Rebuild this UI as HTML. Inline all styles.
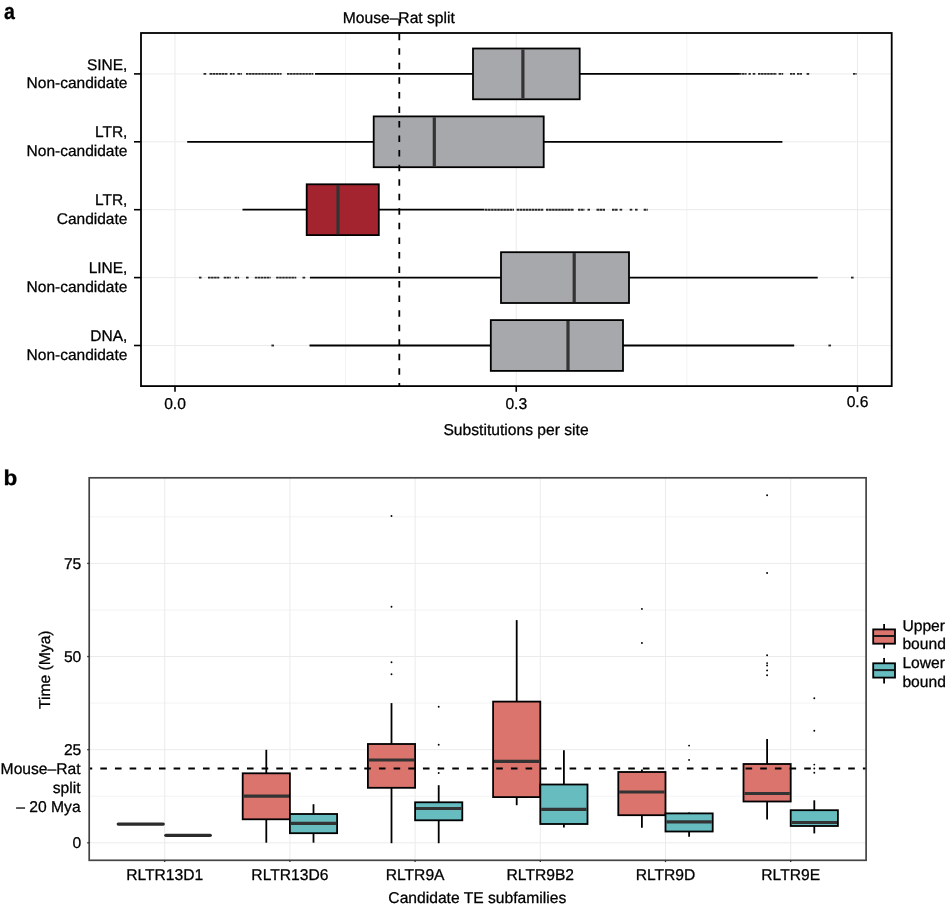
<!DOCTYPE html>
<html><head><meta charset="utf-8"><style>
html,body{margin:0;padding:0;background:#fff;}
svg{display:block;will-change:transform;}
text{font-family:"Liberation Sans", sans-serif;fill:#000;stroke:#000;stroke-width:0.28px;stroke-linejoin:round;text-rendering:geometricPrecision;}
</style></head><body>
<svg width="946" height="906" viewBox="0 0 946 906">
<rect width="946" height="906" fill="#fff"/>
<line x1="175" y1="33" x2="175" y2="386.1" stroke="#ebebeb" stroke-width="1" />
<line x1="345.62" y1="33" x2="345.62" y2="386.1" stroke="#f3f3f3" stroke-width="1" />
<line x1="516.25" y1="33" x2="516.25" y2="386.1" stroke="#ebebeb" stroke-width="1" />
<line x1="686.88" y1="33" x2="686.88" y2="386.1" stroke="#f3f3f3" stroke-width="1" />
<line x1="857.5" y1="33" x2="857.5" y2="386.1" stroke="#ebebeb" stroke-width="1" />
<line x1="141" y1="73.9" x2="891.7" y2="73.9" stroke="#ebebeb" stroke-width="1" />
<line x1="141" y1="141.8" x2="891.7" y2="141.8" stroke="#ebebeb" stroke-width="1" />
<line x1="141" y1="209.7" x2="891.7" y2="209.7" stroke="#ebebeb" stroke-width="1" />
<line x1="141" y1="277.6" x2="891.7" y2="277.6" stroke="#ebebeb" stroke-width="1" />
<line x1="141" y1="345.5" x2="891.7" y2="345.5" stroke="#ebebeb" stroke-width="1" />
<line x1="203.5" y1="73.9" x2="206.7" y2="73.9" stroke="#262626" stroke-width="1.85" stroke-dasharray="2.6 0.45"/>
<line x1="209.5" y1="73.9" x2="227.9" y2="73.9" stroke="#262626" stroke-width="1.85" stroke-dasharray="2.6 0.45"/>
<line x1="229.8" y1="73.9" x2="234.6" y2="73.9" stroke="#262626" stroke-width="1.85" stroke-dasharray="2.6 0.45"/>
<line x1="237.4" y1="73.9" x2="241.9" y2="73.9" stroke="#262626" stroke-width="1.85" stroke-dasharray="2.6 0.45"/>
<line x1="246" y1="73.9" x2="281.6" y2="73.9" stroke="#262626" stroke-width="1.85" stroke-dasharray="2.6 0.45"/>
<line x1="287" y1="73.9" x2="313.4" y2="73.9" stroke="#262626" stroke-width="1.85" stroke-dasharray="2.6 0.45"/>
<line x1="739" y1="73.9" x2="746.6" y2="73.9" stroke="#262626" stroke-width="1.85" stroke-dasharray="2.6 0.45"/>
<line x1="748.5" y1="73.9" x2="750.8" y2="73.9" stroke="#262626" stroke-width="1.85" stroke-dasharray="2.6 0.45"/>
<line x1="752.7" y1="73.9" x2="755.8" y2="73.9" stroke="#262626" stroke-width="1.85" stroke-dasharray="2.6 0.45"/>
<line x1="758" y1="73.9" x2="776.7" y2="73.9" stroke="#262626" stroke-width="1.85" stroke-dasharray="2.6 0.45"/>
<line x1="778.6" y1="73.9" x2="783.2" y2="73.9" stroke="#262626" stroke-width="1.85" stroke-dasharray="2.6 0.45"/>
<line x1="790" y1="73.9" x2="795" y2="73.9" stroke="#262626" stroke-width="1.85" stroke-dasharray="2.6 0.45"/>
<line x1="797" y1="73.9" x2="802" y2="73.9" stroke="#262626" stroke-width="1.85" stroke-dasharray="2.6 0.45"/>
<line x1="806.6" y1="73.9" x2="809.4" y2="73.9" stroke="#262626" stroke-width="1.85" stroke-dasharray="2.6 0.45"/>
<line x1="853" y1="73.9" x2="856.6" y2="73.9" stroke="#262626" stroke-width="1.85" stroke-dasharray="2.6 0.45"/>
<line x1="315" y1="73.9" x2="473" y2="73.9" stroke="#000" stroke-width="1.8" />
<line x1="579.7" y1="73.9" x2="739" y2="73.9" stroke="#000" stroke-width="1.8" />
<rect x="473" y="48.5" width="106.7" height="50.8" fill="#a7a8ab" stroke="#000" stroke-width="1.8"/>
<line x1="522.9" y1="49.4" x2="522.9" y2="98.4" stroke="#333" stroke-width="3.2" />
<line x1="187.2" y1="141.8" x2="373.7" y2="141.8" stroke="#000" stroke-width="1.8" />
<line x1="543.7" y1="141.8" x2="782.4" y2="141.8" stroke="#000" stroke-width="1.8" />
<rect x="373.7" y="116.4" width="170" height="50.8" fill="#a7a8ab" stroke="#000" stroke-width="1.8"/>
<line x1="434.3" y1="117.3" x2="434.3" y2="166.3" stroke="#333" stroke-width="3.2" />
<line x1="485" y1="209.7" x2="514" y2="209.7" stroke="#262626" stroke-width="1.85" stroke-dasharray="2.6 0.45"/>
<line x1="516.6" y1="209.7" x2="543.3" y2="209.7" stroke="#262626" stroke-width="1.85" stroke-dasharray="2.6 0.45"/>
<line x1="546" y1="209.7" x2="574" y2="209.7" stroke="#262626" stroke-width="1.85" stroke-dasharray="2.6 0.45"/>
<line x1="578" y1="209.7" x2="584.5" y2="209.7" stroke="#262626" stroke-width="1.85" stroke-dasharray="2.6 0.45"/>
<line x1="587.5" y1="209.7" x2="590" y2="209.7" stroke="#262626" stroke-width="1.85" stroke-dasharray="2.6 0.45"/>
<line x1="596.5" y1="209.7" x2="605" y2="209.7" stroke="#262626" stroke-width="1.85" stroke-dasharray="2.6 0.45"/>
<line x1="612" y1="209.7" x2="617.6" y2="209.7" stroke="#262626" stroke-width="1.85" stroke-dasharray="2.6 0.45"/>
<line x1="619.6" y1="209.7" x2="622.2" y2="209.7" stroke="#262626" stroke-width="1.85" stroke-dasharray="2.6 0.45"/>
<line x1="629.7" y1="209.7" x2="632.3" y2="209.7" stroke="#262626" stroke-width="1.85" stroke-dasharray="2.6 0.45"/>
<line x1="635" y1="209.7" x2="637.7" y2="209.7" stroke="#262626" stroke-width="1.85" stroke-dasharray="2.6 0.45"/>
<line x1="643.7" y1="209.7" x2="647.7" y2="209.7" stroke="#262626" stroke-width="1.85" stroke-dasharray="2.6 0.45"/>
<line x1="242.5" y1="209.7" x2="306.7" y2="209.7" stroke="#000" stroke-width="1.8" />
<line x1="378.8" y1="209.7" x2="484.5" y2="209.7" stroke="#000" stroke-width="1.8" />
<rect x="306.7" y="184.3" width="72.1" height="50.8" fill="#a3242f" stroke="#000" stroke-width="1.8"/>
<line x1="338" y1="185.2" x2="338" y2="234.2" stroke="#333" stroke-width="3.2" />
<line x1="198.9" y1="277.6" x2="201.5" y2="277.6" stroke="#262626" stroke-width="1.85" stroke-dasharray="2.6 0.45"/>
<line x1="208" y1="277.6" x2="219.3" y2="277.6" stroke="#262626" stroke-width="1.85" stroke-dasharray="2.6 0.45"/>
<line x1="223.7" y1="277.6" x2="230.7" y2="277.6" stroke="#262626" stroke-width="1.85" stroke-dasharray="2.6 0.45"/>
<line x1="234.7" y1="277.6" x2="239.1" y2="277.6" stroke="#262626" stroke-width="1.85" stroke-dasharray="2.6 0.45"/>
<line x1="246" y1="277.6" x2="248.9" y2="277.6" stroke="#262626" stroke-width="1.85" stroke-dasharray="2.6 0.45"/>
<line x1="254.8" y1="277.6" x2="270.7" y2="277.6" stroke="#262626" stroke-width="1.85" stroke-dasharray="2.6 0.45"/>
<line x1="276.1" y1="277.6" x2="296.3" y2="277.6" stroke="#262626" stroke-width="1.85" stroke-dasharray="2.6 0.45"/>
<line x1="302.5" y1="277.6" x2="305.7" y2="277.6" stroke="#262626" stroke-width="1.85" stroke-dasharray="2.6 0.45"/>
<line x1="851" y1="277.6" x2="854" y2="277.6" stroke="#262626" stroke-width="1.85" stroke-dasharray="2.6 0.45"/>
<line x1="309.9" y1="277.6" x2="501" y2="277.6" stroke="#000" stroke-width="1.8" />
<line x1="629" y1="277.6" x2="817.7" y2="277.6" stroke="#000" stroke-width="1.8" />
<rect x="501" y="252.2" width="128" height="50.8" fill="#a7a8ab" stroke="#000" stroke-width="1.8"/>
<line x1="574.2" y1="253.1" x2="574.2" y2="302.1" stroke="#333" stroke-width="3.2" />
<line x1="271.4" y1="345.5" x2="274" y2="345.5" stroke="#262626" stroke-width="1.85" stroke-dasharray="2.6 0.45"/>
<line x1="828.4" y1="345.5" x2="831.1" y2="345.5" stroke="#262626" stroke-width="1.85" stroke-dasharray="2.6 0.45"/>
<line x1="309.5" y1="345.5" x2="490.8" y2="345.5" stroke="#000" stroke-width="1.8" />
<line x1="623" y1="345.5" x2="794.2" y2="345.5" stroke="#000" stroke-width="1.8" />
<rect x="490.8" y="320.1" width="132.2" height="50.8" fill="#a7a8ab" stroke="#000" stroke-width="1.8"/>
<line x1="568" y1="321" x2="568" y2="370" stroke="#333" stroke-width="3.2" />
<line x1="399.3" y1="19.15" x2="399.3" y2="386" stroke="#000" stroke-width="1.8" stroke-dasharray="6.5 8.05"/>
<rect x="141.0" y="33.0" width="750.7" height="353.1" fill="none" stroke="#000" stroke-width="1.8"/>
<line x1="134" y1="73.9" x2="141" y2="73.9" stroke="#000" stroke-width="1.6" />
<line x1="134" y1="141.8" x2="141" y2="141.8" stroke="#000" stroke-width="1.6" />
<line x1="134" y1="209.7" x2="141" y2="209.7" stroke="#000" stroke-width="1.6" />
<line x1="134" y1="277.6" x2="141" y2="277.6" stroke="#000" stroke-width="1.6" />
<line x1="134" y1="345.5" x2="141" y2="345.5" stroke="#000" stroke-width="1.6" />
<line x1="175" y1="386.1" x2="175" y2="391.8" stroke="#000" stroke-width="1.6" />
<line x1="516.25" y1="386.1" x2="516.25" y2="391.8" stroke="#000" stroke-width="1.6" />
<line x1="857.5" y1="386.1" x2="857.5" y2="391.8" stroke="#000" stroke-width="1.6" />
<text transform="translate(127.4 69.5) scale(1 1)" text-anchor="end" font-size="15.5" font-weight="normal" >SINE,</text>
<text transform="translate(127.4 88) scale(1 1)" text-anchor="end" font-size="15.5" font-weight="normal" >Non-candidate</text>
<text transform="translate(127.4 137.4) scale(1 1)" text-anchor="end" font-size="15.5" font-weight="normal" >LTR,</text>
<text transform="translate(127.4 155.9) scale(1 1)" text-anchor="end" font-size="15.5" font-weight="normal" >Non-candidate</text>
<text transform="translate(127.4 205.3) scale(1 1)" text-anchor="end" font-size="15.5" font-weight="normal" >LTR,</text>
<text transform="translate(127.4 223.8) scale(1 1)" text-anchor="end" font-size="15.5" font-weight="normal" >Candidate</text>
<text transform="translate(127.4 273.2) scale(1 1)" text-anchor="end" font-size="15.5" font-weight="normal" >LINE,</text>
<text transform="translate(127.4 291.7) scale(1 1)" text-anchor="end" font-size="15.5" font-weight="normal" >Non-candidate</text>
<text transform="translate(127.4 341.1) scale(1 1)" text-anchor="end" font-size="15.5" font-weight="normal" >DNA,</text>
<text transform="translate(127.4 359.6) scale(1 1)" text-anchor="end" font-size="15.5" font-weight="normal" >Non-candidate</text>
<text transform="translate(175 409.3) scale(1 1)" text-anchor="middle" font-size="15.65" font-weight="normal" >0.0</text>
<text transform="translate(516.25 409.3) scale(1 1)" text-anchor="middle" font-size="15.65" font-weight="normal" >0.3</text>
<text transform="translate(857.5 407.2) scale(1 1)" text-anchor="middle" font-size="15.65" font-weight="normal" >0.6</text>
<text transform="translate(516 434.6) scale(1 1)" text-anchor="middle" font-size="15.65" font-weight="normal" >Substitutions per site</text>
<text transform="translate(398.8 23.1) scale(1 1)" text-anchor="middle" font-size="15.65" font-weight="normal" >Mouse–Rat split</text>
<text transform="translate(3.9 19.2) scale(0.87 1)" text-anchor="start" font-size="22.5" font-weight="bold" >a</text>
<line x1="89.2" y1="842.8" x2="866.1" y2="842.8" stroke="#ebebeb" stroke-width="1" />
<line x1="89.2" y1="796.23" x2="866.1" y2="796.23" stroke="#f3f3f3" stroke-width="1" />
<line x1="89.2" y1="749.67" x2="866.1" y2="749.67" stroke="#ebebeb" stroke-width="1" />
<line x1="89.2" y1="703.1" x2="866.1" y2="703.1" stroke="#f3f3f3" stroke-width="1" />
<line x1="89.2" y1="656.53" x2="866.1" y2="656.53" stroke="#ebebeb" stroke-width="1" />
<line x1="89.2" y1="609.97" x2="866.1" y2="609.97" stroke="#f3f3f3" stroke-width="1" />
<line x1="89.2" y1="563.4" x2="866.1" y2="563.4" stroke="#ebebeb" stroke-width="1" />
<line x1="89.2" y1="516.84" x2="866.1" y2="516.84" stroke="#f3f3f3" stroke-width="1" />
<line x1="164.7" y1="477.8" x2="164.7" y2="860.3" stroke="#ebebeb" stroke-width="1" />
<line x1="289.9" y1="477.8" x2="289.9" y2="860.3" stroke="#ebebeb" stroke-width="1" />
<line x1="415.1" y1="477.8" x2="415.1" y2="860.3" stroke="#ebebeb" stroke-width="1" />
<line x1="540.3" y1="477.8" x2="540.3" y2="860.3" stroke="#ebebeb" stroke-width="1" />
<line x1="665.5" y1="477.8" x2="665.5" y2="860.3" stroke="#ebebeb" stroke-width="1" />
<line x1="790.7" y1="477.8" x2="790.7" y2="860.3" stroke="#ebebeb" stroke-width="1" />
<line x1="118.2" y1="824.1" x2="163.3" y2="824.1" stroke="#2b2b2b" stroke-width="3.2" stroke-linecap="round"/>
<line x1="165.8" y1="835.3" x2="210.3" y2="835.3" stroke="#2b2b2b" stroke-width="3.2" stroke-linecap="round"/>
<line x1="266.3" y1="749.8" x2="266.3" y2="773.3" stroke="#000" stroke-width="1.8" />
<line x1="266.3" y1="819.3" x2="266.3" y2="842.7" stroke="#000" stroke-width="1.8" />
<rect x="242.7" y="773.3" width="47.2" height="46" fill="#da746d" stroke="#000" stroke-width="1.8"/>
<line x1="243.6" y1="796.2" x2="289" y2="796.2" stroke="#333" stroke-width="3.2" />
<line x1="313.5" y1="804.2" x2="313.5" y2="814" stroke="#000" stroke-width="1.8" />
<line x1="313.5" y1="833.2" x2="313.5" y2="842.7" stroke="#000" stroke-width="1.8" />
<rect x="289.9" y="814" width="47.2" height="19.2" fill="#67bcc0" stroke="#000" stroke-width="1.8"/>
<line x1="290.8" y1="823.4" x2="336.2" y2="823.4" stroke="#333" stroke-width="3.2" />
<circle cx="391.5" cy="516" r="0.95" fill="#000"/>
<circle cx="391.5" cy="606.8" r="0.95" fill="#000"/>
<circle cx="391.5" cy="662.2" r="0.95" fill="#000"/>
<circle cx="391.5" cy="674.3" r="0.95" fill="#000"/>
<line x1="391.5" y1="703.1" x2="391.5" y2="744" stroke="#000" stroke-width="1.8" />
<line x1="391.5" y1="787.8" x2="391.5" y2="843.2" stroke="#000" stroke-width="1.8" />
<rect x="367.9" y="744" width="47.2" height="43.8" fill="#da746d" stroke="#000" stroke-width="1.8"/>
<line x1="368.8" y1="760" x2="414.2" y2="760" stroke="#333" stroke-width="3.2" />
<circle cx="438.7" cy="706.7" r="0.95" fill="#000"/>
<circle cx="438.7" cy="744.7" r="0.95" fill="#000"/>
<circle cx="438.7" cy="768.2" r="0.95" fill="#000"/>
<circle cx="438.7" cy="773" r="0.95" fill="#000"/>
<line x1="438.7" y1="785.2" x2="438.7" y2="802.3" stroke="#000" stroke-width="1.8" />
<line x1="438.7" y1="820.3" x2="438.7" y2="843.2" stroke="#000" stroke-width="1.8" />
<rect x="415.1" y="802.3" width="47.2" height="18" fill="#67bcc0" stroke="#000" stroke-width="1.8"/>
<line x1="416" y1="808.5" x2="461.4" y2="808.5" stroke="#333" stroke-width="3.2" />
<line x1="516.7" y1="620.1" x2="516.7" y2="701.6" stroke="#000" stroke-width="1.8" />
<line x1="516.7" y1="797.1" x2="516.7" y2="805.2" stroke="#000" stroke-width="1.8" />
<rect x="493.1" y="701.6" width="47.2" height="95.5" fill="#da746d" stroke="#000" stroke-width="1.8"/>
<line x1="494" y1="761.3" x2="539.4" y2="761.3" stroke="#333" stroke-width="3.2" />
<line x1="563.9" y1="750.3" x2="563.9" y2="784.5" stroke="#000" stroke-width="1.8" />
<line x1="563.9" y1="824" x2="563.9" y2="827.4" stroke="#000" stroke-width="1.8" />
<rect x="540.3" y="784.5" width="47.2" height="39.5" fill="#67bcc0" stroke="#000" stroke-width="1.8"/>
<line x1="541.2" y1="809.3" x2="586.6" y2="809.3" stroke="#333" stroke-width="3.2" />
<circle cx="641.9" cy="608.9" r="0.95" fill="#000"/>
<circle cx="641.9" cy="643" r="0.95" fill="#000"/>
<line x1="641.9" y1="769.4" x2="641.9" y2="772" stroke="#000" stroke-width="1.8" />
<line x1="641.9" y1="815.2" x2="641.9" y2="827.7" stroke="#000" stroke-width="1.8" />
<rect x="618.3" y="772" width="47.2" height="43.2" fill="#da746d" stroke="#000" stroke-width="1.8"/>
<line x1="619.2" y1="792" x2="664.6" y2="792" stroke="#333" stroke-width="3.2" />
<circle cx="689.1" cy="745.6" r="0.95" fill="#000"/>
<circle cx="689.1" cy="759.9" r="0.95" fill="#000"/>
<line x1="689.1" y1="812.6" x2="689.1" y2="813.4" stroke="#000" stroke-width="1.8" />
<line x1="689.1" y1="831.5" x2="689.1" y2="836.7" stroke="#000" stroke-width="1.8" />
<rect x="665.5" y="813.4" width="47.2" height="18.1" fill="#67bcc0" stroke="#000" stroke-width="1.8"/>
<line x1="666.4" y1="821.8" x2="711.8" y2="821.8" stroke="#333" stroke-width="3.2" />
<circle cx="767.1" cy="495.2" r="0.95" fill="#000"/>
<circle cx="767.1" cy="573" r="0.95" fill="#000"/>
<circle cx="767.1" cy="655.2" r="0.95" fill="#000"/>
<circle cx="767.1" cy="663.1" r="0.95" fill="#000"/>
<circle cx="767.1" cy="665.5" r="0.95" fill="#000"/>
<circle cx="767.1" cy="670.4" r="0.95" fill="#000"/>
<circle cx="767.1" cy="675.3" r="0.95" fill="#000"/>
<line x1="767.1" y1="738.9" x2="767.1" y2="764" stroke="#000" stroke-width="1.8" />
<line x1="767.1" y1="801.5" x2="767.1" y2="819.5" stroke="#000" stroke-width="1.8" />
<rect x="743.5" y="764" width="47.2" height="37.5" fill="#da746d" stroke="#000" stroke-width="1.8"/>
<line x1="744.4" y1="793.5" x2="789.8" y2="793.5" stroke="#333" stroke-width="3.2" />
<circle cx="814.3" cy="698.2" r="0.95" fill="#000"/>
<circle cx="814.3" cy="730.7" r="0.95" fill="#000"/>
<circle cx="814.3" cy="764.6" r="0.95" fill="#000"/>
<circle cx="814.3" cy="768.5" r="0.95" fill="#000"/>
<circle cx="814.3" cy="772.7" r="0.95" fill="#000"/>
<line x1="814.3" y1="800.3" x2="814.3" y2="810.2" stroke="#000" stroke-width="1.8" />
<line x1="814.3" y1="826" x2="814.3" y2="833.4" stroke="#000" stroke-width="1.8" />
<rect x="790.7" y="810.2" width="47.2" height="15.8" fill="#67bcc0" stroke="#000" stroke-width="1.8"/>
<line x1="791.6" y1="822.5" x2="837" y2="822.5" stroke="#333" stroke-width="3.2" />
<line x1="89.6" y1="768.5" x2="866" y2="768.5" stroke="#000" stroke-width="1.8" stroke-dasharray="6.6 8.065" stroke-dashoffset="3.965"/>
<rect x="89.2" y="477.8" width="776.9" height="382.5" fill="none" stroke="#444" stroke-width="1.7"/>
<line x1="87.2" y1="842.8" x2="89.2" y2="842.8" stroke="#333" stroke-width="1.3" />
<line x1="87.2" y1="749.67" x2="89.2" y2="749.67" stroke="#333" stroke-width="1.3" />
<line x1="87.2" y1="656.53" x2="89.2" y2="656.53" stroke="#333" stroke-width="1.3" />
<line x1="87.2" y1="563.4" x2="89.2" y2="563.4" stroke="#333" stroke-width="1.3" />
<line x1="164.7" y1="860.3" x2="164.7" y2="862.1" stroke="#333" stroke-width="1.3" />
<line x1="289.9" y1="860.3" x2="289.9" y2="862.1" stroke="#333" stroke-width="1.3" />
<line x1="415.1" y1="860.3" x2="415.1" y2="862.1" stroke="#333" stroke-width="1.3" />
<line x1="540.3" y1="860.3" x2="540.3" y2="862.1" stroke="#333" stroke-width="1.3" />
<line x1="665.5" y1="860.3" x2="665.5" y2="862.1" stroke="#333" stroke-width="1.3" />
<line x1="790.7" y1="860.3" x2="790.7" y2="862.1" stroke="#333" stroke-width="1.3" />
<text transform="translate(81.3 848.4) scale(1 1)" text-anchor="end" font-size="15.65" font-weight="normal" >0</text>
<text transform="translate(81.3 755.27) scale(1 1)" text-anchor="end" font-size="15.65" font-weight="normal" >25</text>
<text transform="translate(81.3 662.13) scale(1 1)" text-anchor="end" font-size="15.65" font-weight="normal" >50</text>
<text transform="translate(81.3 569) scale(1 1)" text-anchor="end" font-size="15.65" font-weight="normal" >75</text>
<text transform="translate(80.6 774) scale(1 1)" text-anchor="end" font-size="15.65" font-weight="normal" >Mouse–Rat</text>
<text transform="translate(80.6 792.7) scale(1 1)" text-anchor="end" font-size="15.65" font-weight="normal" >split</text>
<text transform="translate(80.6 812.3) scale(1 1)" text-anchor="end" font-size="15.65" font-weight="normal" >– 20 Mya</text>
<text x="0" y="0" text-anchor="middle" font-size="15.65" transform="translate(49.9 669.7) rotate(-90) scale(1 1.0)">Time (Mya)</text>
<text transform="translate(164.7 880.3) scale(1 1)" text-anchor="middle" font-size="15.65" font-weight="normal" >RLTR13D1</text>
<text transform="translate(289.9 880.3) scale(1 1)" text-anchor="middle" font-size="15.65" font-weight="normal" >RLTR13D6</text>
<text transform="translate(415.1 880.3) scale(1 1)" text-anchor="middle" font-size="15.65" font-weight="normal" >RLTR9A</text>
<text transform="translate(540.3 880.3) scale(1 1)" text-anchor="middle" font-size="15.65" font-weight="normal" >RLTR9B2</text>
<text transform="translate(665.5 880.3) scale(1 1)" text-anchor="middle" font-size="15.65" font-weight="normal" >RLTR9D</text>
<text transform="translate(790.7 880.3) scale(1 1)" text-anchor="middle" font-size="15.65" font-weight="normal" >RLTR9E</text>
<text transform="translate(477.3 902.8) scale(1 1)" text-anchor="middle" font-size="15.65" font-weight="normal" >Candidate TE subfamilies</text>
<text transform="translate(3.4 484.8) scale(1.05 1)" text-anchor="start" font-size="21.5" font-weight="bold" >b</text>
<line x1="884.1" y1="624.1" x2="884.1" y2="648.6" stroke="#000" stroke-width="1.8" />
<rect x="873.2" y="629.4" width="21.8" height="14.3" fill="#da746d" stroke="#000" stroke-width="1.8"/>
<line x1="874.1" y1="636" x2="894.1" y2="636" stroke="#1a1a1a" stroke-width="2" />
<line x1="884.1" y1="658" x2="884.1" y2="683.5" stroke="#000" stroke-width="1.8" />
<rect x="873.2" y="663.3" width="21.8" height="14.3" fill="#67bcc0" stroke="#000" stroke-width="1.8"/>
<line x1="874.1" y1="670.1" x2="894.1" y2="670.1" stroke="#1a1a1a" stroke-width="2" />
<text transform="translate(902.4 630.8) scale(1 1)" text-anchor="start" font-size="15.65" font-weight="normal" >Upper</text>
<text transform="translate(902.4 649.3) scale(1 1)" text-anchor="start" font-size="15.65" font-weight="normal" >bound</text>
<text transform="translate(902.4 668.3) scale(1 1)" text-anchor="start" font-size="15.65" font-weight="normal" >Lower</text>
<text transform="translate(902.4 686.7) scale(1 1)" text-anchor="start" font-size="15.65" font-weight="normal" >bound</text>
</svg>
</body></html>
